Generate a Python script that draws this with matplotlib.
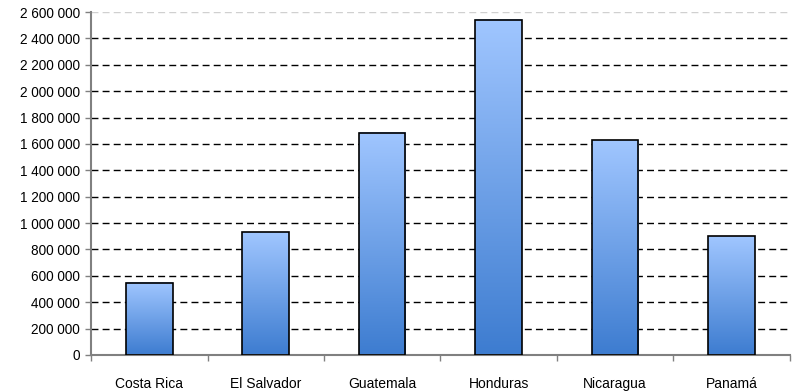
import numpy as np
import matplotlib
matplotlib.use("Agg")
from matplotlib import pyplot as plt
from matplotlib.colors import LinearSegmentedColormap

paises = ["Costa Rica", "El Salvador", "Guatemala", "Honduras", "Nicaragua", "Panamá"]
valores = [548000, 932000, 1685000, 2540000, 1627000, 900000]
yticks = list(range(0, 2600001, 200000))

plt.rcParams['font.family'] = ['Liberation Sans', 'DejaVu Sans']

fig = plt.figure(figsize=(7.93, 3.91), dpi=100)
ax = fig.add_axes([0.1148, 0.0921, 0.8812, 0.8772])

x = np.arange(len(paises))
ancho = 0.4

# degradado vertical en cada barra
cmap = LinearSegmentedColormap.from_list("azul", ["#3d7cd0", "#a0c6ff"])
grad = np.linspace(0, 1, 256).reshape(-1, 1)
for xi, v in zip(x, valores):
    ax.imshow(grad, cmap=cmap, origin="lower", aspect="auto",
              extent=(xi - ancho / 2, xi + ancho / 2, 0, v), zorder=2)
ax.bar(x, valores, width=ancho, fill=False, edgecolor="black", linewidth=1.2, zorder=3)
ax.set_xlim(-0.5, len(paises) - 0.5)
ax.set_ylim(0, 2600000)

# líneas de cuadrícula discontinuas
for t in yticks[1:]:
    color = "#d0d0d0" if t == yticks[-1] else "black"
    ax.axhline(t, color=color, linestyle=(0, (5, 3)), linewidth=1, zorder=1)

ax.set_yticks(yticks)
ax.set_yticklabels([f"{t:,}".replace(",", " ") for t in yticks], fontsize=9.8)
ax.set_xticks(x)
ax.set_xticklabels(paises, fontsize=10)
ax.set_xticks(np.arange(-0.5, len(paises)), minor=True)
ax.tick_params(axis="x", which="major", length=0, pad=16)
ax.tick_params(axis="x", which="minor", length=4, color="#808080", width=1)
ax.tick_params(axis="y", length=4, color="#808080", width=1, pad=4)

for s in ["top", "right"]:
    ax.spines[s].set_visible(False)
for s in ["left", "bottom"]:
    ax.spines[s].set_color("#808080")
    ax.spines[s].set_linewidth(1.5)

fig.savefig("out.png", dpi=100)
